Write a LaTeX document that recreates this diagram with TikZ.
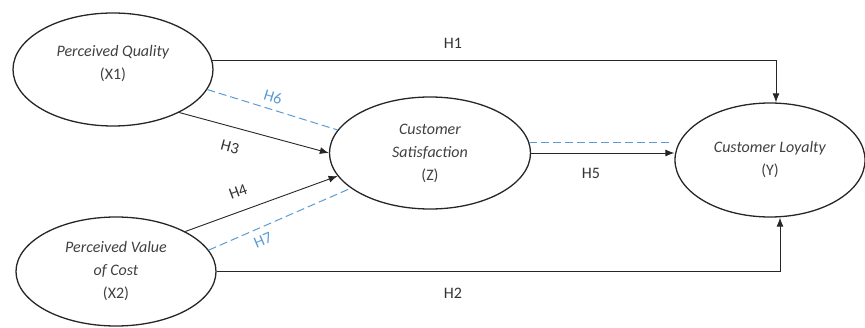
\documentclass[tikz,border=0pt]{standalone}
\usepackage{fontspec}
\setmainfont{Carlito}
\usetikzlibrary{shapes.geometric,arrows.meta}
\definecolor{inkgray}{RGB}{64,64,64}
\definecolor{dashblue}{RGB}{91,155,213}

\begin{document}
\begin{tikzpicture}[x=1pt,y=1pt,
  construct/.style={ellipse,draw=black!85,line width=1.3pt,inner sep=0pt,
    align=center,text=inkgray,font=\fontsize{16}{23}\selectfont},
  effect/.style={draw=black!85,line width=0.9pt,-{Latex[length=9pt,width=7pt]}},
  mediated/.style={draw=dashblue,line width=1pt,dash pattern=on 8pt off 4pt},
  hlabel/.style={text=black!80,font=\fontsize{16}{19}\selectfont},
  hblue/.style={hlabel,text=dashblue}]
\useasboundingbox (0,0) rectangle (865,327);
% constructs
\node[construct,minimum width=200pt,minimum height=113pt] (X1) at (113,257.5)
  {\raisebox{6pt}[\height][\depth]{\begin{tabular}{@{}c@{}}\textit{Perceived Quality}\\(X1)\end{tabular}}};
\node[construct,minimum width=200pt,minimum height=109pt] (X2) at (116,55.5)
  {\textit{Perceived Value}\\\textit{of Cost}\\(X2)};
\node[construct,minimum width=201pt,minimum height=112pt] (Z) at (430,174)
  {\textit{Customer}\\\textit{Satisfaction}\\(Z)};
\node[construct,minimum width=190pt,minimum height=114pt] (Y) at (770,167)
  {\textit{Customer Loyalty}\\(Y)};
% direct effects
\draw[effect] (X1.5) -| ([xshift=6pt]Y.north);
\draw[effect] (X2.east) -| ([xshift=10pt]Y.south);
\draw[effect] (X1.-33) -- (Z.west);
\draw[effect] (X2.30) -- (Z.194);
\draw[effect] (Z.east) -- (Z.east -| Y.west);
% mediated paths
\draw[mediated] (X1.-12) -- (Z.166);
\draw[mediated] (X2.13) -- (Z.204);
\draw[mediated,shorten >=4.5pt] (Z.6) -- (Z.6 -| Y.west);
% hypothesis labels
\node[hlabel] (h1) at (453,284) {H1};
\node[hlabel] (h2) at (453,34) {H2};
\node[hlabel,rotate=-15] (h3) at (230,180) {H3};
\node[hlabel,rotate=20] (h4) at (238,135) {H4};
\node[hlabel] (h5) at (591,154) {H5};
\node[hblue,rotate=-17] (h6) at (273,230) {H6};
\node[hblue,rotate=23] (h7) at (263,87) {H7};
\end{tikzpicture}
\end{document}
